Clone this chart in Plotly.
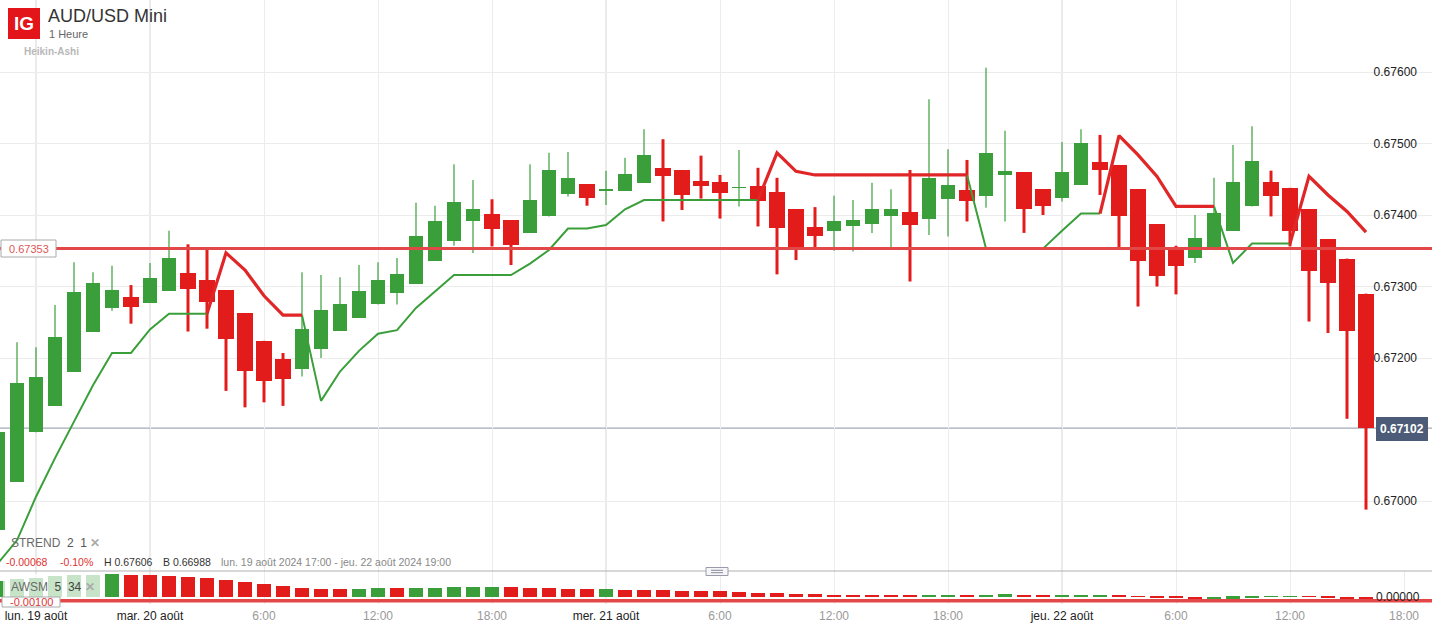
import pandas as pd
import plotly.graph_objects as go
from plotly.subplots import make_subplots

# AUD/USD Mini, 1 Heure, Heikin-Ashi candles starting lun. 19 août 16:00
START = '2024-08-19 16:00'
OPEN = [0.66959, 0.67027, 0.67096, 0.67133, 0.67181, 0.67237, 0.67270, 0.67285, 0.67277, 0.67294,
        0.67319, 0.67309, 0.67295, 0.67263, 0.67224, 0.67199, 0.67184, 0.67212, 0.67238, 0.67256,
        0.67275, 0.67291, 0.67304, 0.67336, 0.67364, 0.67391, 0.67401, 0.67393, 0.67375, 0.67398,
        0.67430, 0.67443, 0.67433, 0.67434, 0.67445, 0.67466, 0.67463, 0.67448, 0.67446, 0.67438,
        0.67441, 0.67432, 0.67408, 0.67383, 0.67377, 0.67384, 0.67388, 0.67398, 0.67404, 0.67395,
        0.67423, 0.67435, 0.67427, 0.67456, 0.67460, 0.67436, 0.67424, 0.67442, 0.67474, 0.67470,
        0.67436, 0.67387, 0.67353, 0.67340, 0.67353, 0.67378, 0.67412, 0.67446, 0.67438, 0.67408,
        0.67366, 0.67339, 0.67290]
HIGH = [0.67097, 0.67222, 0.67215, 0.67274, 0.67334, 0.67320, 0.67329, 0.67302, 0.67333, 0.67378,
        0.67359, 0.67352, 0.67295, 0.67263, 0.67224, 0.67207, 0.67320, 0.67316, 0.67313, 0.67330,
        0.67334, 0.67340, 0.67417, 0.67413, 0.67471, 0.67449, 0.67422, 0.67393, 0.67471, 0.67487,
        0.67488, 0.67443, 0.67462, 0.67480, 0.67520, 0.67506, 0.67463, 0.67483, 0.67456, 0.67491,
        0.67466, 0.67452, 0.67408, 0.67411, 0.67427, 0.67421, 0.67445, 0.67436, 0.67463, 0.67562,
        0.67492, 0.67477, 0.67606, 0.67518, 0.67460, 0.67436, 0.67502, 0.67520, 0.67512, 0.67470,
        0.67436, 0.67387, 0.67357, 0.67400, 0.67452, 0.67498, 0.67524, 0.67462, 0.67438, 0.67408,
        0.67366, 0.67339, 0.67290]
LOW = [0.66959, 0.67027, 0.67096, 0.67133, 0.67181, 0.67237, 0.67266, 0.67248, 0.67277, 0.67294,
       0.67237, 0.67241, 0.67154, 0.67131, 0.67138, 0.67133, 0.67174, 0.67200, 0.67238, 0.67256,
       0.67275, 0.67275, 0.67304, 0.67336, 0.67357, 0.67347, 0.67356, 0.67330, 0.67375, 0.67398,
       0.67426, 0.67413, 0.67414, 0.67434, 0.67445, 0.67391, 0.67407, 0.67423, 0.67395, 0.67412,
       0.67384, 0.67317, 0.67337, 0.67351, 0.67350, 0.67349, 0.67375, 0.67353, 0.67307, 0.67372,
       0.67370, 0.67391, 0.67410, 0.67391, 0.67375, 0.67400, 0.67419, 0.67442, 0.67428, 0.67353,
       0.67272, 0.67300, 0.67289, 0.67333, 0.67353, 0.67378, 0.67412, 0.67398, 0.67356, 0.67251,
       0.67235, 0.67115, 0.66988]
CLOSE = [0.67097, 0.67165, 0.67173, 0.67229, 0.67292, 0.67305, 0.67295, 0.67272, 0.67312, 0.67340,
         0.67296, 0.67279, 0.67227, 0.67182, 0.67168, 0.67171, 0.67241, 0.67267, 0.67276, 0.67294,
         0.67309, 0.67317, 0.67371, 0.67392, 0.67418, 0.67408, 0.67381, 0.67358, 0.67421, 0.67463,
         0.67452, 0.67424, 0.67436, 0.67457, 0.67484, 0.67455, 0.67428, 0.67440, 0.67431, 0.67439,
         0.67420, 0.67382, 0.67354, 0.67371, 0.67392, 0.67393, 0.67408, 0.67408, 0.67386, 0.67452,
         0.67442, 0.67420, 0.67487, 0.67462, 0.67409, 0.67413, 0.67460, 0.67501, 0.67463, 0.67399,
         0.67335, 0.67315, 0.67328, 0.67368, 0.67403, 0.67446, 0.67476, 0.67427, 0.67377, 0.67321,
         0.67305, 0.67238, 0.67102]

# STREND 2 1 (supertrend) values and trend runs
STREND = [0.66913, 0.66945, 0.67006, 0.67060, 0.67111, 0.67162, 0.67207, 0.67207, 0.67240, 0.67262,
          0.67262, 0.67262, 0.67347, 0.67323, 0.67287, 0.67260, 0.67260, 0.67140, 0.67181, 0.67210,
          0.67234, 0.67239, 0.67270, 0.67293, 0.67316, 0.67316, 0.67316, 0.67316, 0.67332, 0.67351,
          0.67381, 0.67381, 0.67386, 0.67408, 0.67421, 0.67421, 0.67421, 0.67421, 0.67421, 0.67421,
          0.67421, 0.67487, 0.67461, 0.67456, 0.67456, 0.67456, 0.67456, 0.67456, 0.67456, 0.67456,
          0.67456, 0.67456, 0.67353, 0.67353, 0.67353, 0.67353, 0.67378, 0.67402, 0.67402, 0.67511,
          0.67484, 0.67454, 0.67412, 0.67412, 0.67412, 0.67333, 0.67360, 0.67360, 0.67360, 0.67454,
          0.67428, 0.67405, 0.67376]
STREND_RUNS = [('u', 12), ('d', 5), ('u', 24), ('d', 11), ('u', 7), ('d', 6), ('u', 4), ('d', 4)]

# AWSM 5 34 histogram
AWSM = [0.00080, 0.00088, 0.00095, 0.00103, 0.00108, 0.00111, 0.00112, 0.00111, 0.00107, 0.00104,
        0.00097, 0.00092, 0.00084, 0.00074, 0.00062, 0.00052, 0.00043, 0.00041, 0.00040, 0.00041,
        0.00044, 0.00043, 0.00045, 0.00046, 0.00047, 0.00048, 0.00049, 0.00047, 0.00044, 0.00042,
        0.00040, 0.00038, 0.00039, 0.00036, 0.00035, 0.00033, 0.00031, 0.00030, 0.00028, 0.00025,
        0.00021, 0.00018, 0.00015, 0.00012, 0.000085, 0.00007, 0.00006, 0.00005, 0.00004, 0.00005,
        0.000065, 0.00006, 0.00010, 0.000125, 0.000085, 0.000065, 0.000075, 0.00008, 0.00009, 0.00005,
        0.000015, -0.000025, -0.000085, -0.00014, -0.00013, -0.00009, -0.000035, -0.000005, 0.00002, 0.00001,
        -0.00003, -0.00014, -0.00026]

LEVEL = 0.67353
LAST = 0.67102
AWSM_LEVEL = -0.001
AWSM_TICK = 0.0
# 0.67100 sits under the last-price tag, so it is left out
PRICE_TICKS = [0.670, 0.672, 0.673, 0.674, 0.675, 0.676]
X_TICKS = pd.date_range('2024-08-19 18:00', '2024-08-22 18:00', freq='6h')
X_LABELS = ['lun. 19 août', 'mar. 20 août', '6:00', '12:00', '18:00', 'mer. 21 août', '6:00',
            '12:00', '18:00', 'jeu. 22 août', '6:00', '12:00', '18:00']

GREEN = '#3a9f3a'
RED = '#e21b1b'
W, H = 1432, 624
PLOT_H = 604
HOUR_MS = 3600 * 1000
FONT = 'Liberation Sans, Arial, sans-serif'


def px(x, y):
    return x / W, 1 - y / PLOT_H


n = len(OPEN)
t = pd.date_range(START, periods=n, freq='h')
up = [c >= o for o, c in zip(OPEN, CLOSE)]
trend = ''.join(d * k for d, k in STREND_RUNS)

fig = make_subplots(rows=2, cols=1, shared_xaxes=True, vertical_spacing=0, row_heights=[571, 33])


def wicks(mask, color, width):
    xs, ys = [], []
    for i in range(n):
        if mask[i]:
            xs += [t[i], t[i], None]
            ys += [LOW[i], HIGH[i], None]
    return go.Scatter(x=xs, y=ys, mode='lines', line=dict(color=color, width=width), hoverinfo='skip')


def bodies(mask, color, width):
    idx = [i for i in range(n) if mask[i]]
    return go.Bar(
        x=[t[i] for i in idx],
        y=[max(abs(CLOSE[i] - OPEN[i]), 0.00001) for i in idx],
        base=[min(OPEN[i], CLOSE[i]) for i in idx],
        width=width * HOUR_MS, marker=dict(color=color, line=dict(width=0)),
    )


down = [not u for u in up]
fig.add_trace(wicks(up, GREEN, 1.2), row=1, col=1)
fig.add_trace(wicks(down, RED, 3), row=1, col=1)
fig.add_trace(bodies(up, GREEN, 14 / 19), row=1, col=1)
fig.add_trace(bodies(down, RED, 16 / 19), row=1, col=1)

# supertrend: segment i-1 -> i takes the colour of candle i
for d, color, lw in [('u', GREEN, 2), ('d', '#e02626', 3.2)]:
    ys = [STREND[i] if (trend[i] == d or (i + 1 < n and trend[i + 1] == d)) else None for i in range(n)]
    fig.add_trace(go.Scatter(x=t, y=ys, mode='lines', line=dict(color=color, width=lw),
                             hoverinfo='skip'), row=1, col=1)

aw_colors = [GREEN if i == 0 or AWSM[i] > AWSM[i - 1] else RED for i in range(n)]
fig.add_trace(go.Bar(x=t, y=AWSM, width=13.5 / 19 * HOUR_MS,
                     marker=dict(color=aw_colors, line=dict(width=0))), row=2, col=1)

x_range = ['2024-08-19 16:06:19', '2024-08-22 19:28:25']
ticktext = [f'<span style="color:#222">{s}</span>' if 'août' in s else s for s in X_LABELS]
fig.update_xaxes(type='date', range=x_range, tickvals=X_TICKS, ticktext=ticktext, showgrid=True,
                 gridcolor='#ececec', gridwidth=1, zeroline=False, showline=False, ticks='')
fig.update_xaxes(showticklabels=False, row=1, col=1)
fig.update_xaxes(tickfont=dict(size=12, color='#999', family=FONT), ticklabelstandoff=3, row=2, col=1)

price_lo = 0.676 - 499 / 71500
price_hi = 0.676 + 72 / 71500
fig.update_yaxes(side='right', range=[price_lo, price_hi], tickvals=PRICE_TICKS,
                 ticktext=[f'{v:.5f}' for v in PRICE_TICKS], ticklabelposition='inside',
                 ticklabelstandoff=12, showgrid=True, gridcolor='#ececec', zeroline=False,
                 ticks='', tickfont=dict(size=12, color='#222', family=FONT), row=1, col=1)
aw_lo, aw_hi = -0.000365, 0.001285
fig.update_yaxes(range=[aw_lo, aw_hi], showticklabels=False, showgrid=False, zeroline=False,
                 ticks='', row=2, col=1)

# darker day boundaries
for tv, lab in zip(X_TICKS, X_LABELS):
    if 'août' in lab and tv > pd.Timestamp(x_range[0]):
        fig.add_shape(type='line', xref='x', yref='paper', x0=tv, x1=tv, y0=0, y1=1,
                      line=dict(color='#d4d4d4', width=1), layer='between')

# last price line and level lines
fig.add_shape(type='line', xref='paper', yref='y', x0=0, x1=1, y0=LAST, y1=LAST,
              line=dict(color='#a3aab8', width=1.3), layer='between')
fig.add_shape(type='line', xref='paper', yref='y', x0=0, x1=1, y0=LEVEL, y1=LEVEL,
              line=dict(color='#e34848', width=3), layer='above')
aw_line = max(AWSM_LEVEL, aw_lo + 0.00016)
fig.add_shape(type='line', xref='paper', yref='y2', x0=0, x1=1, y0=aw_line, y1=aw_line,
              line=dict(color='#e34848', width=3.5), layer='above')

# pane separator and handle
sep = 1 - 571 / PLOT_H
fig.add_shape(type='line', xref='paper', yref='paper', x0=0, x1=1, y0=sep, y1=sep,
              line=dict(color='#b0b0b0', width=1))
x0, y0 = px(706, 567.5)
x1, y1 = px(728, 575.5)
fig.add_shape(type='rect', xref='paper', yref='paper', x0=x0, x1=x1, y0=y0, y1=y1,
              fillcolor='#f6f6f9', line=dict(color='#9a9aaa', width=1))
for yy in (570.3, 572.7):
    a, b = px(711, yy)
    c, _ = px(723, yy)
    fig.add_shape(type='line', xref='paper', yref='paper', x0=a, x1=c, y0=b, y1=b,
                  line=dict(color='#8a8a9a', width=1))


# boxes: IG logo, AWSM legend, level labels, last price
def box(xa, ya, xb, yb, fill, border=None):
    a, b = px(xa, ya)
    c, d = px(xb, yb)
    fig.add_shape(type='rect', xref='paper', yref='paper', x0=a, x1=c, y0=b, y1=d, fillcolor=fill,
                  line=dict(color=border or fill, width=1 if border else 0), layer='above')


box(8, 8, 40, 39, '#e3151a')
box(3, 574, 101, 598, 'rgba(255,255,255,0.72)')
box(1, 240, 56, 257, 'white', '#aaaaaa')
box(2, 597, 60, 607, 'white', '#aaaaaa')
box(1376, 417, 1428, 441, '#4b5b78')


def label(x, y, text, size=12, color='#333', anchor='left', bold=False):
    a, b = px(x, y)
    fig.add_annotation(x=a, y=b, xref='paper', yref='paper', text=f'<b>{text}</b>' if bold else text,
                       showarrow=False, xanchor=anchor, yanchor='middle',
                       font=dict(size=size, color=color, family=FONT))


label(24, 24, 'IG', 19, 'white', 'center', True)
label(46, 16, 'AUD/USD Mini', 18, '#333')
label(47, 34, '1 Heure', 11, '#666')
label(22, 51, 'Heikin-Ashi', 10, '#b8b8b8', bold=True)

nb = '\u00a0'
label(9, 543, f'STREND{nb}{nb}<span style="color:#555">2{nb}{nb}1</span> <span style="color:#aaa"><b>✕</b></span>',
      12, '#6a6a6a')
label(4, 562, '-0.00068', 10.5, '#e03030')
label(58, 562, '-0.10%', 10.5, '#e03030')
label(102, 562, 'H 0.67606', 10.5, '#333')
label(161, 562, 'B 0.66988', 10.5, '#333')
label(219, 562, 'lun. 19 août 2024 17:00 - jeu. 22 août 2024 19:00', 10.5, '#888')
label(9, 587, f'AWSM{nb}{nb}<span style="color:#444">5{nb}{nb}34</span> <span style="color:#aaa"><b>✕</b></span>',
      12, '#6a6a6a')
label(28.5, 248.5, f'{LEVEL:.5f}', 11, '#e05555', 'center')
label(31, 602, f'{AWSM_LEVEL:.5f}', 11, '#e03535', 'center')
label(1402, 428.5, f'{LAST:.5f}', 12, 'white', 'center', True)

# AWSM pane value label, placed on the pane's own scale
fig.add_annotation(x=1 - 10 / W, y=AWSM_TICK, xref='paper', yref='y2', text=f'{AWSM_TICK:.5f}',
                   showarrow=False, xanchor='right', yanchor='middle',
                   font=dict(size=12, color='#222', family=FONT))

fig.update_layout(
    width=W, height=H, margin=dict(l=0, r=0, t=0, b=H - PLOT_H),
    paper_bgcolor='white', plot_bgcolor='white', showlegend=False, barmode='overlay',
    bargap=0, font=dict(family=FONT),
)

# the page's default body margin would shift the figure by 8px
fig.write_html('out.html', config={'displayModeBar': False},
               post_script="document.body.style.margin='0';")
